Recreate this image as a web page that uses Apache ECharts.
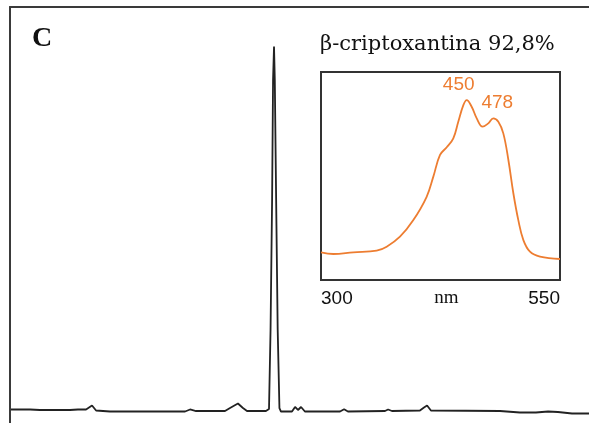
<!DOCTYPE html>
<html>
<head>
<meta charset="utf-8">
<script src="https://cdn.jsdelivr.net/npm/echarts@6/dist/echarts.min.js"></script>
<style>html,body{margin:0;padding:0;background:#fff;}#c{width:589px;height:423px;}</style>
</head>
<body>
<div id="c"></div>
<script>
// Chromatogram: retention time (min) and detector response
const chromTime = [0.05,1.04,1.55,3.11,3.52,3.94,4.25,4.46,5.18,9.07,9.33,9.64,11.14,11.40,11.81,12.07,12.28,13.26,13.42,13.50,13.58,13.63,13.68,13.72,13.79,13.87,13.96,14.04,14.61,14.77,14.92,15.08,15.28,17.10,17.31,17.51,19.43,19.59,19.79,21.24,21.45,21.61,21.81,25.39,26.42,27.25,27.88,28.39,29.12,30.00];
const chromSignal = [3.25,3.25,3.13,3.13,3.25,3.25,4.20,3.00,2.76,2.76,3.25,2.88,2.88,3.60,4.69,3.60,2.88,2.88,3.37,22.4,53.6,82.5,90.5,82.5,53.6,22.4,3.60,2.76,2.76,3.85,3.13,3.85,2.76,2.76,3.29,2.76,2.88,3.25,2.88,3.00,3.73,4.20,3.00,2.88,2.52,2.52,2.76,2.64,2.28,2.28];

// Inset: UV-Vis spectrum of beta-cryptoxanthin
const specNm = [300,312.9,333.8,358.2,368.7,382.6,396.6,410.5,417.5,424.5,431.5,438.4,443.6,448.9,452.4,457.6,462.9,469.1,475.0,480.2,485.5,490.7,496.0,501.2,506.4,511.7,518.6,529.1,550];
const specAbs = [0.133,0.125,0.133,0.141,0.160,0.208,0.288,0.400,0.497,0.601,0.638,0.681,0.761,0.841,0.865,0.833,0.777,0.737,0.753,0.777,0.761,0.705,0.577,0.417,0.288,0.192,0.136,0.112,0.101];
const specTickLabels = ['300','550'];
const peakLabels = [{nm:452.4, abs:0.865, text:'450'}, {nm:480.2, abs:0.777, text:'478'}];
const panelLabel = 'C';
const insetTitle = 'β-criptoxantina 92,8%';
const insetAxisName = 'nm';

const orange = '#ED7D31';
const chart = echarts.init(document.getElementById('c'));

chart.setOption({
  animation: false,
  backgroundColor: '#fff',
  grid: [
    {left: 10, right: 0, top: 7, bottom: 0},
    {left: 321, top: 72, width: 239, height: 208, show: true, borderColor: '#333', borderWidth: 2, backgroundColor: '#fff', z: 5}
  ],
  xAxis: [
    {gridIndex: 0, type: 'value', min: 0, max: 30, position: 'top',
     axisLine: {show: true, onZero: false, lineStyle: {color: '#3a3a3a', width: 2}},
     axisTick: {show: false}, axisLabel: {show: false}, splitLine: {show: false}},
    {gridIndex: 1, type: 'value', min: 300, max: 550, interval: 50,
     axisLine: {show: false, onZero: false}, axisTick: {show: false}, splitLine: {show: false},
     axisLabel: {show: true, margin: 9, color: '#111', fontFamily: 'Liberation Sans', fontSize: 19,
       formatter: v => (specTickLabels.indexOf(String(v)) >= 0 ? String(v) : ''),
       alignMinLabel: 'left', alignMaxLabel: 'right'},
     name: insetAxisName, nameLocation: 'middle', nameGap: 9, nameMoveOverlap: false,
     nameTextStyle: {fontFamily: 'Liberation Serif', fontSize: 19, color: '#111', verticalAlign: 'top', padding: [0, 0, 0, 12]}}
  ],
  yAxis: [
    {gridIndex: 0, type: 'value', min: 0, max: 100,
     axisLine: {show: true, onZero: false, lineStyle: {color: '#3a3a3a', width: 2}},
     axisTick: {show: false}, axisLabel: {show: false}, splitLine: {show: false}},
    {gridIndex: 1, type: 'value', min: 0, max: 1,
     axisLine: {show: false}, axisTick: {show: false}, axisLabel: {show: false}, splitLine: {show: false}}
  ],
  series: [
    {type: 'line', xAxisIndex: 0, yAxisIndex: 0, showSymbol: false, symbol: 'none',
     data: chromTime.map((t, i) => [t, chromSignal[i]]),
     lineStyle: {color: '#222', width: 1.8}, z: 2},
    {type: 'line', xAxisIndex: 1, yAxisIndex: 1, showSymbol: false, symbol: 'none', smooth: 0.4,
     data: specNm.map((n, i) => [n, specAbs[i]]),
     lineStyle: {color: orange, width: 1.8}, z: 6,
     markPoint: {
       symbol: 'circle', symbolSize: 0,
       data: peakLabels.map((p, i) => ({coord: [p.nm, p.abs], value: p.text,
         label: {show: true, position: 'top', distance: 2, offset: [i === 0 ? -8 : 4, -4],
           formatter: p.text, color: orange, fontFamily: 'Liberation Sans', fontSize: 19}}))
     }}
  ],
  graphic: [
    {type: 'text', left: 32, top: 25, z: 10,
     style: {text: panelLabel, font: 'bold 28px "Liberation Serif"', fill: '#111'}},
    {type: 'text', left: 320, top: 34, z: 10,
     style: {text: insetTitle, font: '21px "DejaVu Serif"', fill: '#111'}}
  ]
});
</script>
</body>
</html>
